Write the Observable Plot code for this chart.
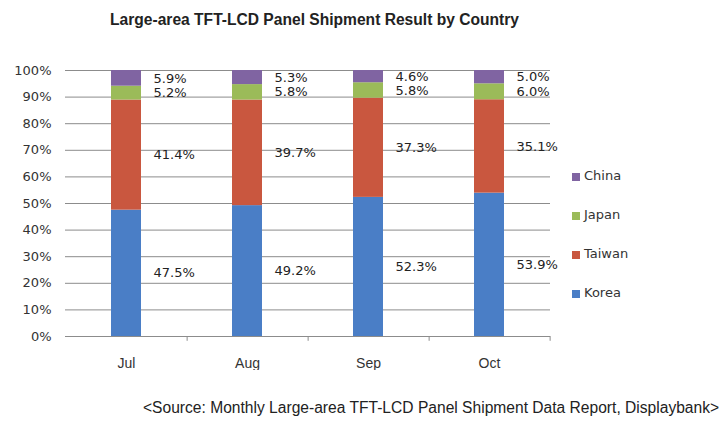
<!DOCTYPE html>
<html><head><meta charset="utf-8">
<script src="https://cdn.jsdelivr.net/npm/d3@7"></script>
<script src="https://cdn.jsdelivr.net/npm/@observablehq/plot@0.6"></script>
<style>
  body { margin:0; background:#fff; }
  #wrap { position:relative; width:726px; height:424px; overflow:hidden; background:#fff; }
  #title { position:absolute; left:110px; top:11px; white-space:nowrap; font:bold 15.6px "Liberation Sans", Arial, sans-serif; color:#222; }
  #caption { position:absolute; left:143px; top:399px; white-space:nowrap; font:15.6px "Liberation Sans", Arial, sans-serif; color:#222; }
  #legend { position:absolute; left:572px; top:168px; font:13px "DejaVu Sans", sans-serif; color:#333; }
  #legend .item { height:39px; display:flex; align-items:flex-start; }
  #legend .sw { width:8px; height:8px; margin-top:5px; margin-right:4px; }
  #chart { position:absolute; left:0; top:0; }
</style>
</head><body>
<div id="wrap">
  <div id="chart"></div>
  <div id="title">Large-area TFT-LCD Panel Shipment Result by Country</div>
  <div id="legend"></div>
  <div id="caption">&lt;Source: Monthly Large-area TFT-LCD Panel Shipment Data Report, Displaybank&gt;</div>
</div>
<script>
const months = ["Jul", "Aug", "Sep", "Oct"];
const countries = ["Korea", "Taiwan", "Japan", "China"];
const colors = ["#4a7ec6", "#c9573f", "#9bbb59", "#8064a2"];
const korea  = [47.5, 49.2, 52.3, 53.9];
const taiwan = [41.4, 39.7, 37.3, 35.1];
const japan  = [5.2, 5.8, 5.8, 6.0];
const china  = [5.9, 5.3, 4.6, 5.0];
const yTicks = [0, 10, 20, 30, 40, 50, 60, 70, 80, 90, 100];

const series = [korea, taiwan, japan, china];
const rows = [];
months.forEach((m, i) => countries.forEach((c, j) => rows.push({month: m, country: c, value: series[j][i]})));

const W = 726, H = 370, ML = 65, MR = 176, MT = 70, MB = 34;
const half = (W - ML - MR) / months.length / 2;

const chart = Plot.plot({
  width: W, height: H,
  marginLeft: ML, marginRight: MR, marginTop: MT, marginBottom: MB,
  style: {background: "transparent"},
  x: {domain: months, paddingInner: 0.75, paddingOuter: 0.375, label: null},
  y: {domain: [0, 100], label: null},
  color: {domain: countries, range: colors},
  marks: [
    Plot.gridY(yTicks, {stroke: "#8c8c8c", strokeOpacity: 1}),
    Plot.ruleX(months, {x: d => d, y1: 0, y2: -1.8, dx: half, stroke: "#8c8c8c"}),
    Plot.barY(rows, Plot.stackY({x: "month", y: "value", z: "country", fill: "country", order: countries})),
    Plot.text(rows, Plot.stackY({x: "month", y: "value", z: "country", order: countries,
      text: d => d.value.toFixed(1) + "%", textAnchor: "start", dx: 27,
      fontSize: 13, fontFamily: "DejaVu Sans", fill: "#222"})),
    Plot.axisY(yTicks, {tickSize: 0, tickPadding: 14, tickFormat: d => d + "%",
      fontSize: 13, fontFamily: "DejaVu Sans", fill: "#333"}),
    Plot.axisX({tickSize: 0, tickPadding: 22, fontSize: 14,
      fontFamily: "'Liberation Sans Narrow', 'Liberation Sans', sans-serif", fill: "#333"})
  ]
});
document.getElementById("chart").appendChild(chart);

const legend = document.getElementById("legend");
countries.slice().reverse().forEach(c => {
  const it = document.createElement("div");
  it.className = "item";
  const sw = document.createElement("span");
  sw.className = "sw";
  sw.style.background = colors[countries.indexOf(c)];
  const t = document.createElement("span");
  t.textContent = c;
  it.appendChild(sw); it.appendChild(t);
  legend.appendChild(it);
});
</script>
</body></html>
